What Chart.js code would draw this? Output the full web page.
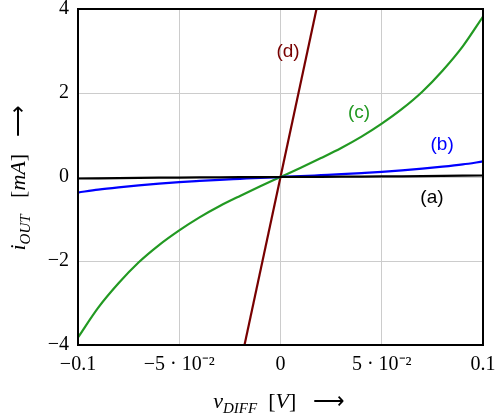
<!DOCTYPE html>
<html>
<head>
<meta charset="utf-8">
<script src="https://cdn.jsdelivr.net/npm/chart.js@4/dist/chart.umd.min.js"></script>
<style>
  html, body { margin: 0; padding: 0; background: #fff; }
  #wrap { width: 496px; height: 415px; }
</style>
</head>
<body>
<div id="wrap"><canvas id="chart" width="496" height="415"></canvas></div>
<script>
// data (x in V, y in mA)
const xs = [-0.1, -0.09, -0.08, -0.07, -0.06, -0.05, -0.04, -0.03, -0.02, -0.01, 0,
            0.01, 0.02, 0.03, 0.04, 0.05, 0.06, 0.07, 0.08, 0.09, 0.1];
const curveA = [-0.036, -0.031, -0.026, -0.021, -0.017, -0.013, -0.010, -0.007, -0.004, -0.002, 0,
                0.002, 0.004, 0.007, 0.010, 0.013, 0.017, 0.021, 0.026, 0.031, 0.036];
const curveB = [-0.37, -0.30, -0.245, -0.198, -0.158, -0.123, -0.094, -0.067, -0.044, -0.021, 0,
                0.021, 0.044, 0.067, 0.094, 0.123, 0.158, 0.198, 0.245, 0.30, 0.37];
const curveC = [-3.82, -3.11, -2.53, -2.03, -1.62, -1.27, -0.96, -0.69, -0.45, -0.22, 0,
                0.22, 0.45, 0.69, 0.96, 1.27, 1.62, 2.03, 2.53, 3.11, 3.82];
const xsD = [-0.02, 0, 0.02];
const curveD = [-4.5, 0, 4.5];

const xTicks = {"-10": "\u22120.1", "-5": "\u22125 \u00b7 10\u207b\u00b2", "0": "0", "5": "5 \u00b7 10\u207b\u00b2", "10": "0.1"};
const yTicks = {"4": "4", "2": "2", "0": "0", "-2": "\u22122", "-4": "\u22124"};

const curveLabels = [
  { text: "(d)", x: 0.0037, y: 2.98, color: "#780000" },
  { text: "(c)", x: 0.0388, y: 1.52, color: "#229922" },
  { text: "(b)", x: 0.0798, y: 0.76, color: "#0000ff" },
  { text: "(a)", x: 0.0748, y: -0.50, color: "#000000" }
];

const pts = (xv, yv) => xv.map((x, i) => ({ x: x, y: yv[i] }));

function drawRich(ctx, parts, size) {
  // parts: [text, italic, sub]
  const setFont = p => {
    ctx.font = (p[1] ? "italic " : "") + (p[2] ? Math.round(size * 0.7) : size) + "px 'Liberation Serif', serif";
  };
  let w = 0;
  parts.forEach(p => { setFont(p); w += ctx.measureText(p[0]).width; });
  let x = -w / 2;
  parts.forEach(p => {
    setFont(p);
    ctx.fillText(p[0], x, p[2] ? size * 0.22 : 0);
    x += ctx.measureText(p[0]).width;
  });
}

const extras = {
  id: "extras",
  afterDatasetsDraw(chart) {
    const ctx = chart.ctx, sx = chart.scales.x, sy = chart.scales.y, a = chart.chartArea;
    ctx.save();
    // frame
    ctx.strokeStyle = "#000";
    ctx.lineWidth = 2;
    ctx.strokeRect(a.left, a.top, a.right - a.left, a.bottom - a.top);
    // curve labels
    ctx.font = "19px 'Liberation Sans', Arial, sans-serif";
    ctx.textAlign = "center";
    ctx.textBaseline = "middle";
    curveLabels.forEach(l => {
      ctx.fillStyle = l.color;
      ctx.fillText(l.text, sx.getPixelForValue(l.x), sy.getPixelForValue(l.y));
    });
    // axis titles
    ctx.fillStyle = "#000";
    ctx.textAlign = "left";
    ctx.textBaseline = "alphabetic";
    ctx.save();
    ctx.translate(279, 408);
    drawRich(ctx, [["v", true, false], ["DIFF", true, true], ["  [", false, false], ["V", true, false], ["]   \u27f6", false, false]], 22);
    ctx.restore();
    ctx.save();
    ctx.translate(25, 178);
    ctx.rotate(-Math.PI / 2);
    drawRich(ctx, [["i", true, false], ["OUT", true, true], ["   [", false, false], ["mA", true, false], ["]   \u27f6", false, false]], 22);
    ctx.restore();
    ctx.restore();
  }
};

new Chart(document.getElementById("chart"), {
  type: "line",
  data: {
    datasets: [
      { label: "(a)", data: pts(xs, curveA), borderColor: "#000000", borderWidth: 2.2 },
      { label: "(b)", data: pts(xs, curveB), borderColor: "#0000ff", borderWidth: 2.2, cubicInterpolationMode: "monotone" },
      { label: "(c)", data: pts(xs, curveC), borderColor: "#229922", borderWidth: 2.2, cubicInterpolationMode: "monotone" },
      { label: "(d)", data: pts(xsD, curveD), borderColor: "#780000", borderWidth: 2.2 }
    ]
  },
  options: {
    responsive: false,
    animation: false,
    layout: { padding: { top: 9, right: 13, left: 0, bottom: 0 } },
    elements: { point: { radius: 0 } },
    plugins: { legend: { display: false }, tooltip: { enabled: false } },
    scales: {
      x: {
        type: "linear",
        min: -0.1, max: 0.1,
        afterFit: s => { s.height = 70; s.paddingLeft = 0; s.paddingRight = 0; },
        afterBuildTicks: s => { s.ticks = [-0.1, -0.05, 0, 0.05, 0.1].map(v => ({ value: v })); },
        grid: { color: "#cccccc", lineWidth: 1, drawTicks: false },
        border: { display: false },
        ticks: {
          padding: 8,
          maxRotation: 0,
          color: "#000",
          font: { family: "'Liberation Serif', serif", size: 20 },
          callback: v => xTicks[String(Math.round(v * 100))]
        }
      },
      y: {
        type: "linear",
        min: -4, max: 4,
        afterFit: s => { s.width = 78; s.paddingTop = 0; s.paddingBottom = 0; },
        afterBuildTicks: s => { s.ticks = [-4, -2, 0, 2, 4].map(v => ({ value: v })); },
        grid: { color: "#cccccc", lineWidth: 1, drawTicks: false },
        border: { display: false },
        ticks: {
          padding: 9,
          color: "#000",
          font: { family: "'Liberation Serif', serif", size: 20 },
          callback: v => yTicks[String(Math.round(v))]
        }
      }
    }
  },
  plugins: [extras]
});
</script>
</body>
</html>
